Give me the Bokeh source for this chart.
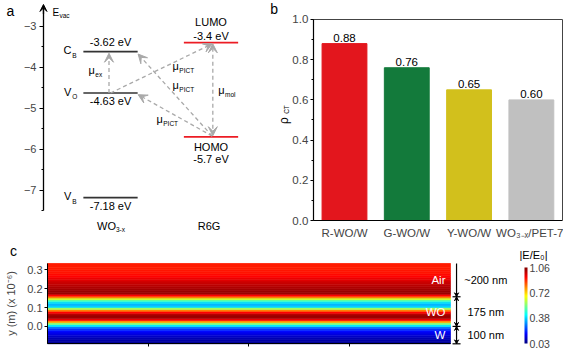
import numpy as np
from math import pi
from bokeh.plotting import figure
from bokeh.layouts import row, column
from bokeh.models import (Range1d, Label, Arrow, VeeHead, TeeHead, LinearAxis,
                          LinearColorMapper, ColorBar, FixedTicker, SingleIntervalTicker,
                          PrintfTickFormatter, ColumnDataSource)
from bokeh.core.properties import value
from bokeh.embed import file_html
from bokeh.resources import INLINE

FONT = "Liberation Sans"

# ---------------- panel a data: energy levels (eV) ----------------
wo_level_E = [-3.62, -4.63, -7.18]
wo_level_sym = ["C", "V", "V"]
wo_level_sub = ["B", "O", "B"]
r6g_level_E = [-3.4, -5.7]
r6g_level_name = ["LUMO", "HOMO"]
column_pos = [1.0, 2.0]          # WO3-x column, R6G column

# ---------------- panel b data ----------------
samples = ["R-WO/W", "G-WO/W", "Y-WO/W", "WO\u2083\u208b\u2093/PET-7"]
rho_ct = [0.88, 0.76, 0.65, 0.60]
bar_colors = ["#e3161d", "#137a3b", "#d2c01c", "#c0c0c0"]

# ---------------- panel c data: |E/E0| profile, bottom to top ----------------
field_y0 = -0.10      # x 1e-6 m
field_dy = 0.01
field = [0.05, 0.06, 0.07, 0.08, 0.10, 0.12, 0.14, 0.17, 0.21, 0.28,
         0.40, 0.55, 0.76, 0.93, 1.02, 1.03, 1.00, 0.93, 0.80, 0.58,
         0.38, 0.34, 0.38, 0.47, 0.62, 0.80, 0.93, 1.03, 1.03, 1.02,
         1.01, 1.00, 0.99, 0.98, 0.96, 0.95, 0.93, 0.92, 0.91, 0.91,
         0.90, 0.90, 0.90, 0.90]
layer_names = ["W", "WO", "Air"]
layer_edges = [-0.092, 0.0, 0.157, 0.333]
layer_thickness = ["100 nm", "175 nm", "~200 nm"]
cbar_ticks = [0.03, 0.38, 0.72, 1.06]


def txt(p, x, y, s, size="11px", align="center", baseline="middle", xo=0, yo=0,
        color="black", angle=0.0):
    p.add_layout(Label(x=x, y=y, text=s, x_offset=xo, y_offset=yo, text_align=align,
                       text_baseline=baseline, text_font=FONT, text_font_size=size,
                       text_color=color, angle=angle))


def base_fig(**kw):
    p = figure(output_backend="svg", toolbar_location=None,
               min_border_left=0, min_border_right=0, min_border_top=0, min_border_bottom=0, **kw)
    p.background_fill_color = "white"
    p.border_fill_color = "white"
    p.outline_line_color = None
    p.xgrid.visible = False
    p.ygrid.visible = False
    return p


# ======================= panel a =======================
pa = base_fig(width=268, height=240, x_range=Range1d(-0.0945, 2.572),
              y_range=Range1d(-8.227, -2.373), x_axis_location=None)
ya = pa.yaxis[0]
ya.fixed_location = 0.333
ya.ticker = SingleIntervalTicker(interval=1, num_minor_ticks=2)
ya.bounds = (-7.5, -2.55)
ya.major_tick_out = 4
ya.major_tick_in = 0
ya.minor_tick_out = 2
ya.minor_tick_in = 0
ya.axis_line_width = 1.3
ya.major_tick_line_width = 1.2
ya.major_label_standoff = 3
ya.major_label_text_font = FONT
ya.major_label_text_font_size = "11px"
pa.add_layout(Arrow(x_start=0.333, y_start=-2.7, x_end=0.333, y_end=-2.47,
                    line_width=1.3, end=VeeHead(size=7, fill_color="black", line_color="black")))
txt(pa, 0.333, -2.62, "a", size="14px", align="left", xo=-37)
txt(pa, 0.333, -2.66, "E", size="10px", align="left", xo=9)
txt(pa, 0.333, -2.66, "vac", size="6.5px", align="left", xo=16, yo=-3)

cx_wo, cx_r = column_pos
half = 0.27
pa.segment(x0=[cx_wo - half] * 3, x1=[cx_wo + half] * 3, y0=wo_level_E, y1=wo_level_E,
           line_color="#333333", line_width=1.6)
pa.segment(x0=[cx_r - half] * 2, x1=[cx_r + half] * 2, y0=r6g_level_E, y1=r6g_level_E,
           line_color="#ec1c24", line_width=1.6)

e_offsets = [10, -7.5, -8.5]
for E, sym, sub, eo in zip(wo_level_E, wo_level_sym, wo_level_sub, e_offsets):
    txt(pa, cx_wo - half, E, sym, size="11px", align="right", xo=-12, yo=1.5)
    txt(pa, cx_wo - half, E, sub, size="6.5px", align="left", xo=-11, yo=-3.5)
    txt(pa, cx_wo, E, f"{E:g} eV", size="11px", yo=eo)

txt(pa, cx_r, r6g_level_E[0], f"{r6g_level_E[0]:g} eV", yo=7)
txt(pa, cx_r, r6g_level_E[0], r6g_level_name[0], yo=20.5)
txt(pa, cx_r, r6g_level_E[1], r6g_level_name[1], yo=-10)
txt(pa, cx_r, r6g_level_E[1], f"{r6g_level_E[1]:g} eV", yo=-22)

CB, VO, VB = wo_level_E
LUMO, HOMO = r6g_level_E
grey = "#a9a9a9"
arrow_specs = [
    (cx_wo - 0.015, VO, cx_wo - 0.015, CB - 0.04, False),
    (cx_wo, VO, cx_r + 0.012, LUMO - 0.03, False),
    (cx_r + 0.012, HOMO + 0.02, cx_wo + half + 0.005, CB - 0.06, False),
    (cx_r + 0.012, HOMO + 0.02, cx_wo + half + 0.005, VO - 0.04, False),
    (cx_r + 0.018, HOMO + 0.03, cx_r + 0.018, LUMO - 0.03, True),
]
for xs, ys, xe, ye, both in arrow_specs:
    pa.add_layout(Arrow(x_start=xs, y_start=ys, x_end=xe, y_end=ye,
                        line_color=grey, line_width=1.3, line_dash="4 3",
                        end=VeeHead(size=9, fill_color=grey, line_color=grey),
                        start=VeeHead(size=9, fill_color=grey, line_color=grey) if both else None))

mu_labels = [(0.844, -4.08, "ex"), (1.680, -3.96, "PICT"), (1.680, -4.44, "PICT"),
             (1.520, -5.257, "PICT"), (2.134, -4.548, "mol")]
for mx, my, sub in mu_labels:
    txt(pa, mx, my, "\u03bc", size="11px", align="right")
    txt(pa, mx, my, sub, size="6.5px", align="left", xo=0.5, yo=-4.5)

txt(pa, cx_wo, -7.88, "WO", size="11px", xo=-4)
txt(pa, cx_wo, -7.88, "3-x", size="6.5px", align="left", xo=5.5, yo=-3)
txt(pa, cx_r, -7.88, "R6G", size="11px", xo=-2)

# ======================= panel b =======================
bar_x = list(range(1, len(samples) + 1))
pb = base_fig(width=295, height=240, x_range=Range1d(-0.22, 4.516),
              y_range=Range1d(-0.0995, 1.0945))
pb.vbar(x=bar_x, top=rho_ct, width=0.72, fill_color=bar_colors, line_color=bar_colors)
pb.text(x=bar_x, y=rho_ct, text=[f"{v:.2f}" for v in rho_ct], text_align="center",
        text_baseline="bottom", y_offset=-2, text_font=value(FONT), text_font_size="11.5px",
        text_color="black")
yb = pb.yaxis[0]
yb.fixed_location = 0.5
yb.bounds = (0, 1)
yb.ticker = SingleIntervalTicker(interval=0.2, num_minor_ticks=2)
yb.formatter = PrintfTickFormatter(format="%.1f")
yb.major_tick_out = 3
yb.major_tick_in = 0
yb.minor_tick_out = 2
yb.minor_tick_in = 0
yb.major_label_standoff = 2
yb.major_label_text_font = FONT
yb.major_label_text_font_size = "11.5px"
yb.axis_line_width = 1.2
xb = pb.xaxis[0]
xb.fixed_location = 0
xb.bounds = (0.5, 4.5)
xb.ticker = FixedTicker(ticks=bar_x)
xb.major_label_overrides = {i: s for i, s in zip(bar_x, samples)}
xb.major_tick_out = 0
xb.major_tick_in = 0
xb.minor_tick_line_color = None
xb.major_label_standoff = 6
xb.major_label_text_font = FONT
xb.major_label_text_font_size = "11.5px"
xb.axis_line_width = 1.2
top_ax = LinearAxis(fixed_location=1.0, bounds=(0.5, 4.5), ticker=FixedTicker(ticks=[]),
                    axis_line_color="#444444")
right_ax = LinearAxis(fixed_location=4.5, bounds=(0, 1), ticker=FixedTicker(ticks=[]),
                      axis_line_color="#444444")
pb.add_layout(top_ax, "above")
pb.add_layout(right_ax, "right")
txt(pb, -0.129, 1.0498, "b", size="14px")
txt(pb, 0.0248, 0.4975, "\u03c1", size="12px", angle=pi / 2)
txt(pb, 0.0248, 0.4975, "CT", size="6.5px", angle=pi / 2, xo=3, yo=11)

# ======================= panel c =======================
def jet(n=256):
    cols = []
    for t in np.linspace(0, 1, n):
        r = np.clip(1.5 - abs(4 * t - 3), 0, 1)
        g = np.clip(1.5 - abs(4 * t - 2), 0, 1)
        b = np.clip(1.5 - abs(4 * t - 1), 0, 1)
        cols.append("#%02x%02x%02x" % (int(r * 255), int(g * 255), int(b * 255)))
    return cols

mapper = LinearColorMapper(palette=jet(), low=cbar_ticks[0], high=cbar_ticks[-1])

pc = base_fig(width=563, height=113, x_range=Range1d(-0.4665, 5.1216),
              y_range=Range1d(-0.1433, 0.4547))
band_bottom = field_y0 + field_dy * np.arange(len(field))
band_top = band_bottom + field_dy
src = ColumnDataSource(dict(
    bottom=np.clip(band_bottom, layer_edges[0], layer_edges[-1]),
    top=np.clip(band_top, layer_edges[0], layer_edges[-1]),
    v=field))
pc.quad(left=0, right=4, bottom="bottom", top="top", source=src,
        fill_color={"field": "v", "transform": mapper},
        line_color={"field": "v", "transform": mapper}, line_width=0.6)
yc = pc.yaxis[0]
yc.fixed_location = 0
yc.bounds = (layer_edges[0], layer_edges[-1])
yc.ticker = FixedTicker(ticks=[0.0, 0.1, 0.2, 0.3])
yc.formatter = PrintfTickFormatter(format="%.1f")
yc.major_tick_out = 3
yc.major_tick_in = 0
yc.minor_tick_line_color = None
yc.major_label_standoff = 2
yc.major_label_text_font = FONT
yc.major_label_text_font_size = "11px"
yc.axis_label = "y (m) (x 10\u207b\u2076)"
yc.axis_label_text_font = FONT
yc.axis_label_text_font_size = "11px"
yc.axis_label_text_font_style = "normal"
yc.axis_label_standoff = 7
xc = pc.xaxis[0]
xc.fixed_location = layer_edges[0]
xc.bounds = (0, 4)
xc.ticker = FixedTicker(ticks=[], minor_ticks=[1, 2, 3])
xc.minor_tick_out = 3
xc.minor_tick_in = 0
xc.major_tick_line_color = None
txt(pc, 0, 0.398, "c", size="14px", xo=-34)

sx = 4.06
for i in range(3):
    pc.add_layout(Arrow(x_start=sx, y_start=layer_edges[i + 1], x_end=sx, y_end=layer_edges[i],
                        line_width=1.2, end=TeeHead(size=8, line_width=1.2)))
for i in range(3):
    pc.add_layout(Arrow(x_start=sx, y_start=layer_edges[i + 1], x_end=sx, y_end=layer_edges[i],
                        line_alpha=0,
                        start=VeeHead(size=4, fill_color="black", line_color="black") if i < 2 else None,
                        end=VeeHead(size=4, fill_color="black", line_color="black")))
for i in range(3):
    ymid = 0.5 * (layer_edges[i] + layer_edges[i + 1])
    txt(pc, 3.95, ymid, layer_names[i], size="11.5px", align="right", color="white")
    txt(pc, 4.35, ymid, layer_thickness[i], size="11px")

cb = ColorBar(color_mapper=mapper, location=(524, 10), width=3, height=76, padding=0, margin=0,
              ticker=FixedTicker(ticks=cbar_ticks), formatter=PrintfTickFormatter(format="%.2f"),
              major_label_text_font=FONT, major_label_text_font_size="10.5px",
              label_standoff=2, major_tick_line_color=None, bar_line_color=None,
              background_fill_color=None, border_line_color=None)
pc.add_layout(cb, "center")
txt(pc, 4.824, 0.3806, "|E/E\u2080|", size="11px")

layout = column(row(pa, pb), pc)
open("out.html", "w").write(file_html(layout, INLINE))
